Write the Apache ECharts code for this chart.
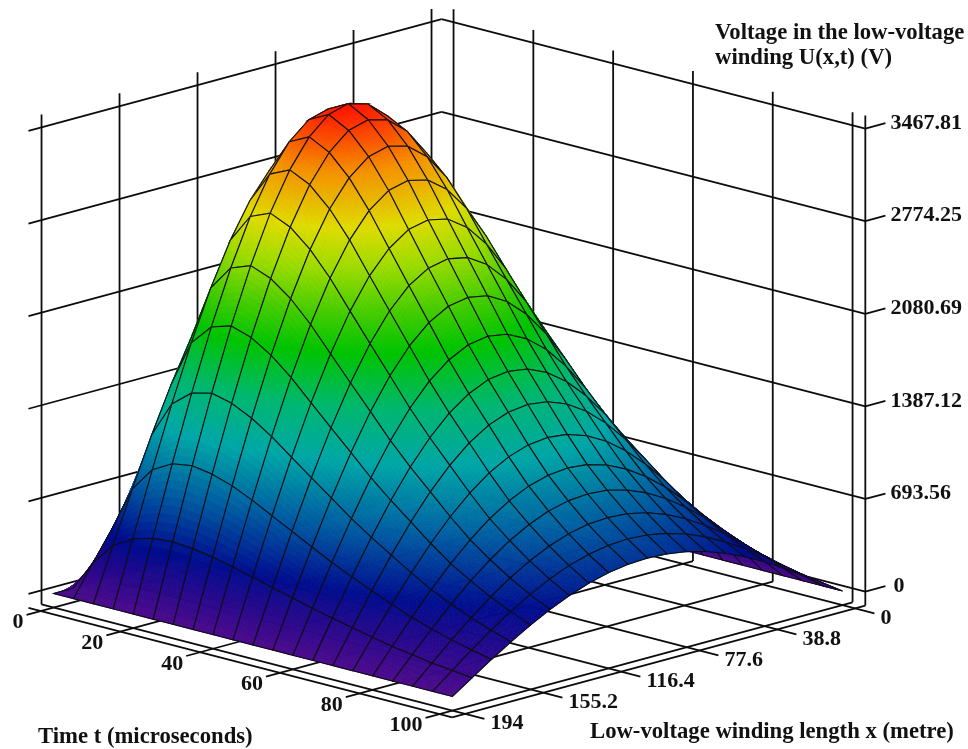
<!DOCTYPE html>
<html>
<head>
<meta charset="utf-8">
<style>html,body{margin:0;padding:0;background:#fff}#c{width:968px;height:749px}</style>
<script src="https://cdn.jsdelivr.net/npm/echarts@6/dist/echarts.min.js"></script>
</head>
<body>
<div id="c"></div>
<script>
// ---------- data ----------
var timeValues = [0,5,10,15,20,25,30,35,40,45,50,55,60,65,70,75,80,85,90,95,100];
var lengthValues = [0,9.7,19.4,29.1,38.8,48.5,58.2,67.9,77.6,87.3,97,106.7,116.4,126.1,135.8,145.5,155.2,164.9,174.6,184.3,194];
var voltage = [
[0,0,0,0,0,0,0,0,0,0,0,0,0,0,0,0,0,0,0,0,0],
[0,227,450,661,856,1029,1178,1297,1385,1439,1456,1439,1385,1297,1178,1029,856,661,450,227,0],
[0,395,782,1150,1489,1790,2048,2256,2408,2502,2532,2502,2408,2256,2048,1790,1489,1150,782,395,0],
[0,487,964,1417,1835,2207,2525,2781,2968,3084,3121,3084,2968,2781,2525,2207,1835,1417,964,487,0],
[0,529,1047,1538,1992,2395,2741,3019,3222,3347,3388,3347,3222,3019,2741,2395,1992,1538,1047,529,0],
[0,541,1071,1574,2039,2451,2805,3089,3297,3425,3467,3425,3297,3089,2805,2451,2039,1574,1071,541,0],
[0,528,1046,1537,1990,2393,2738,3016,3219,3344,3385,3344,3219,3016,2738,2393,1990,1537,1046,528,0],
[0,503,997,1464,1896,2280,2609,2873,3067,3186,3225,3186,3067,2873,2609,2280,1896,1464,997,503,0],
[0,469,929,1365,1768,2126,2433,2679,2860,2971,3007,2971,2860,2679,2433,2126,1768,1365,929,469,0],
[0,429,850,1249,1617,1944,2225,2450,2615,2717,2750,2717,2615,2450,2225,1944,1617,1249,850,429,0],
[0,390,772,1134,1468,1765,2020,2225,2375,2467,2497,2467,2375,2225,2020,1765,1468,1134,772,390,0],
[0,351,694,1020,1321,1589,1818,2002,2137,2220,2247,2220,2137,2002,1818,1589,1321,1020,694,351,0],
[0,311,616,905,1172,1410,1613,1777,1896,1970,1994,1970,1896,1777,1613,1410,1172,905,616,311,0],
[0,276,547,803,1040,1251,1431,1576,1682,1748,1769,1748,1682,1576,1431,1251,1040,803,547,276,0],
[0,244,482,709,918,1104,1263,1391,1485,1542,1561,1542,1485,1391,1263,1104,918,709,482,244,0],
[0,211,418,614,795,956,1094,1205,1286,1336,1352,1336,1286,1205,1094,956,795,614,418,211,0],
[0,181,359,528,683,822,940,1035,1105,1148,1162,1148,1105,1035,940,822,683,528,359,181,0],
[0,157,311,457,592,711,814,896,957,994,1006,994,957,896,814,711,592,457,311,157,0],
[0,135,268,394,510,613,701,772,825,857,867,857,825,772,701,613,510,394,268,135,0],
[0,116,231,339,439,527,604,665,709,737,746,737,709,665,604,527,439,339,231,116,0],
[0,100,198,291,377,454,519,572,611,634,642,634,611,572,519,454,377,291,198,100,0]
];
var timeTicks = [0,20,40,60,80,100];
var lengthTicks = [0,38.8,77.6,116.4,155.2,194];
var voltageTicks = [0,693.56,1387.12,2080.69,2774.25,3467.81];

var colorStops = [
  [0,'#4c0a8c'],[230,'#26088c'],[450,'#000c8e'],[850,'#005ea2'],[1250,'#00a8a8'],
  [1600,'#00b870'],[1950,'#00c400'],[2200,'#44cc00'],[2500,'#a0dc00'],[2750,'#e0dc00'],
  [3100,'#f59000'],[3467.81,'#ff1000']
];

// ---------- oblique view ----------
var TMAX = 100, XMAX = 194, UMAX = 3467.81;
var VIEW = {ox:443.5, oy:488, tx:399, ty:103, xx:-390, xy:105.5, h:463};
var BOX = {tMin:-3, tMax:103.2, xMin:-5, xMax:200.5, floor:-105, top:3565, tTick:108, xTick:207.4, uTick:-15};

function project(t,x,u){
  return [VIEW.ox + t/TMAX*VIEW.tx + x/XMAX*VIEW.xx,
          VIEW.oy + t/TMAX*VIEW.ty + x/XMAX*VIEW.xy - u/UMAX*VIEW.h];
}
function hex(c){return [parseInt(c.substr(1,2),16),parseInt(c.substr(3,2),16),parseInt(c.substr(5,2),16)];}
var stopRGB = colorStops.map(function(s){return [s[0],hex(s[1])];});
function colorOf(u){
  var k=0; while(k<stopRGB.length-2 && u>stopRGB[k+1][0]) k++;
  var a=stopRGB[k], b=stopRGB[k+1], f=Math.max(0,Math.min(1,(u-a[0])/(b[0]-a[0])));
  return 'rgb('+Math.round(a[1][0]+(b[1][0]-a[1][0])*f)+','+Math.round(a[1][1]+(b[1][1]-a[1][1])*f)+','+Math.round(a[1][2]+(b[1][2]-a[1][2])*f)+')';
}

// frame segments: [t1,x1,u1,t2,x2,u2]
var segments = [];
function seg(a,b,c,d,e,f){segments.push([a,b,c,d,e,f]);}
// floor
timeTicks.forEach(function(t){seg(t,BOX.xMin,BOX.floor,t,BOX.xTick,BOX.floor);});
lengthTicks.forEach(function(x){seg(BOX.tMin,x,BOX.floor,BOX.tTick,x,BOX.floor);});
seg(BOX.tMin,BOX.xMax,BOX.floor,BOX.tMax,BOX.xMax,BOX.floor);
seg(BOX.tMax,BOX.xMin,BOX.floor,BOX.tMax,BOX.xMax,BOX.floor);
// walls
lengthTicks.forEach(function(x){seg(BOX.tMin,x,BOX.floor,BOX.tMin,x,BOX.top);});
timeTicks.forEach(function(t){seg(t,BOX.xMin,BOX.floor,t,BOX.xMin,BOX.top);});
seg(BOX.tMax,BOX.xMin,BOX.floor,BOX.tMax,BOX.xMin,BOX.top);
voltageTicks.forEach(function(u){
  seg(BOX.tMin,BOX.xMin,u,BOX.tMin,BOX.xMax,u);
  seg(BOX.tMin,BOX.xMin,u,BOX.tMax,BOX.xMin,u);
  seg(BOX.tMax,BOX.xMin,u,BOX.tMax,BOX.uTick,u);
});

// surface cells, far corner first
var cells = [];
for (var i=0;i<timeValues.length-1;i++) for (var j=0;j<lengthValues.length-1;j++) cells.push([i,j]);

var SUB = 9;
function renderCell(params, api){
  var i=api.value(0), j=api.value(1);
  var t0=timeValues[i], t1=timeValues[i+1], x0=lengthValues[j], x1=lengthValues[j+1];
  var a=voltage[i][j], b=voltage[i+1][j], c=voltage[i+1][j+1], d=voltage[i][j+1];
  function h(p,q){return a*(1-p)*(1-q)+b*p*(1-q)+c*p*q+d*(1-p)*q;}
  function pt(p,q){return api.coord(project(t0+(t1-t0)*p,x0+(x1-x0)*q,h(p,q)));}
  var kids=[];
  for(var m=0;m<SUB;m++) for(var n=0;n<SUB;n++){
    var p0=m/SUB,p1=(m+1)/SUB,q0=n/SUB,q1=(n+1)/SUB;
    var col=colorOf(h((p0+p1)/2,(q0+q1)/2));
    kids.push({type:'polygon',silent:true,shape:{points:[pt(p0,q0),pt(p1,q0),pt(p1,q1),pt(p0,q1)]},
      style:{fill:col,stroke:col,lineWidth:0.8}});
  }
  kids.push({type:'polyline',silent:true,shape:{points:[pt(0,0),pt(1,0),pt(1,1),pt(0,1),pt(0,0)]},
    style:{fill:null,stroke:'#0e0e14',lineWidth:1.1}});
  return {type:'group',children:kids};
}
function renderSeg(params, api){
  var s=segments[api.value(0)];
  var p=api.coord(project(s[0],s[1],s[2])), q=api.coord(project(s[3],s[4],s[5]));
  return {type:'line',silent:true,shape:{x1:p[0],y1:p[1],x2:q[0],y2:q[1]},style:{stroke:'#0c0c0c',lineWidth:1.8,fill:null}};
}
// tick labels
var FONT = 'bold 22px "Liberation Serif", serif';
var TITLE_FONT = 'bold 22.7px "Liberation Serif", serif';
var labels = [];
timeTicks.forEach(function(t){labels.push({text:String(t),at:[t,BOX.xTick,BOX.floor],dx:-3,dy:8,align:'right'});});
lengthTicks.forEach(function(x){labels.push({text:String(x),at:[BOX.tTick,x,BOX.floor],dx:6,dy:5,align:'left'});});
voltageTicks.forEach(function(u){
  var s=u===0?'0':u.toFixed(2);
  labels.push({text:s,at:[BOX.tMax,BOX.uTick,u],dx:u===0?8:5,dy:0,align:'left'});
});
function renderLabel(params, api){
  var l=labels[api.value(0)];
  var p=api.coord(project(l.at[0],l.at[1],l.at[2]));
  return {type:'text',silent:true,x:p[0]+l.dx,y:p[1]+l.dy,
    style:{text:l.text,font:FONT,fill:'#111',align:l.align,verticalAlign:'middle'}};
}
function idx(arr){return arr.map(function(_,k){return [k,0];});}

var chart = echarts.init(document.getElementById('c'),null,{renderer:'canvas'});
chart.setOption({
  animation:false,
  backgroundColor:'#ffffff',
  tooltip:{show:false},
  grid:{left:0,right:0,top:0,bottom:0},
  xAxis:{type:'value',min:0,max:968,show:false},
  yAxis:{type:'value',min:0,max:749,inverse:true,show:false},
  graphic:[
    {type:'text',left:715,top:22,silent:true,style:{text:'Voltage in the low-voltage',font:TITLE_FONT,fill:'#111'}},
    {type:'text',left:715,top:47,silent:true,style:{text:'winding U(x,t) (V)',font:TITLE_FONT,fill:'#111'}},
    {type:'text',left:38,top:726,silent:true,style:{text:'Time t (microseconds)',font:TITLE_FONT,fill:'#111'}},
    {type:'text',left:590,top:721,silent:true,style:{text:'Low-voltage winding length x (metre)',font:TITLE_FONT,fill:'#111'}}
  ],
  series:[
    {type:'custom',name:'frame',coordinateSystem:'cartesian2d',clip:false,progressive:0,silent:true,data:idx(segments),renderItem:renderSeg,z:1},
    {type:'custom',name:'U(x,t)',coordinateSystem:'cartesian2d',clip:false,progressive:0,silent:true,data:cells,renderItem:renderCell,z:2},
    {type:'custom',name:'tick labels',coordinateSystem:'cartesian2d',clip:false,progressive:0,silent:true,data:idx(labels),renderItem:renderLabel,z:3}
  ]
});
</script>
</body>
</html>
